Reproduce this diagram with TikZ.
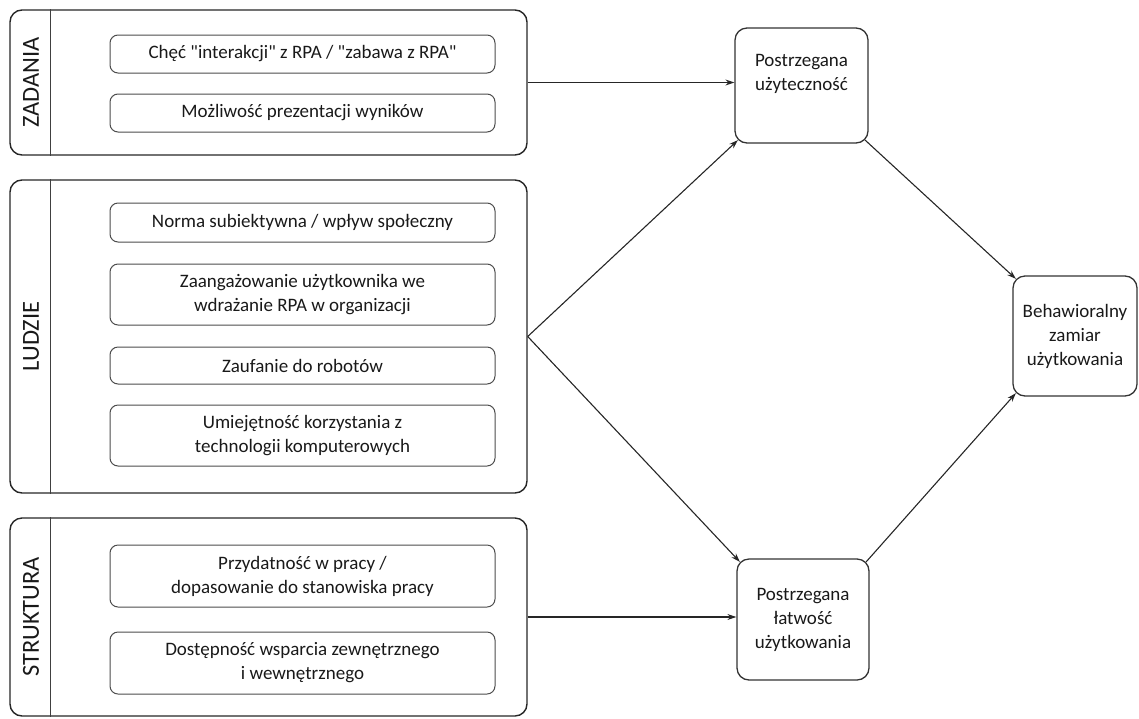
\documentclass[tikz,border=0pt]{standalone}
\usepackage{fontspec}
\setmainfont{Carlito}[Ligatures=TeXOff]
\usetikzlibrary{arrows.meta,calc}
\begin{document}
\begin{tikzpicture}[x=1pt,y=-1pt,
  group/.style={draw=black!85, line width=1.4pt, rounded corners=12pt, inner sep=0pt},
  item/.style={draw=black!70, line width=1pt, rounded corners=8pt, minimum width=385pt, inner sep=0pt, align=center, font=\fontsize{19}{24}\selectfont, text=black!90},
  concept/.style={draw=black!80, line width=1.3pt, rounded corners=12pt, inner sep=0pt, align=center, font=\fontsize{19}{24}\selectfont, text=black!90},
  grouplabel/.style={rotate=90, font=\fontsize{24.5}{27}\selectfont, text=black!90, inner sep=0pt},
  divider/.style={draw=black!75, line width=1pt},
  link/.style={draw=black!85, line width=1.1pt, -{Stealth[length=9pt,width=6pt]}}
]
\useasboundingbox (0,0) rectangle (1139,718);

% groups
\node[group, minimum width=517pt, minimum height=145pt] (zad) at (268.5,82.5) {};
\node[group, minimum width=517pt, minimum height=313pt] (lud) at (268.5,336.5) {};
\node[group, minimum width=517pt, minimum height=198pt] (str) at (268.5,617) {};

\draw[divider] ([xshift=41pt]zad.north west) -- ([xshift=41pt]zad.south west);
\draw[divider] ([xshift=41pt]lud.north west) -- ([xshift=41pt]lud.south west);
\draw[divider] ([xshift=41pt]str.north west) -- ([xshift=41pt]str.south west);

\node[grouplabel] (zadl) at (31,82.5) {ZADANIA};
\node[grouplabel] (ludl) at (31,336.5) {LUDZIE};
\node[grouplabel] (strl) at (31,617) {STRUKTURA};

% items
\node[item, minimum height=38pt] (i1) at (302.5,54) {Chęć "interakcji" z RPA / "zabawa z RPA"};
\node[item, minimum height=38pt] (i2) at (302.5,113) {Możliwość prezentacji wyników};
\node[item, minimum height=39pt] (i3) at (302.5,222.5) {Norma subiektywna / wpływ społeczny};
\node[item, minimum height=61pt] (i4) at (302.5,294.5) {Zaangażowanie użytkownika we\\wdrażanie RPA w organizacji};
\node[item, minimum height=37pt] (i5) at (302.5,365.5) {Zaufanie do robotów};
\node[item, minimum height=61pt] (i6) at (302.5,435.5) {Umiejętność korzystania z\\technologii komputerowych};
\node[item, minimum height=62pt] (i7) at (302.5,576) {Przydatność w pracy /\\dopasowanie do stanowiska pracy};
\node[item, minimum height=62pt] (i8) at (302.5,663) {Dostępność wsparcia zewnętrznego\\i wewnętrznego};

% concepts
\node[concept, minimum width=133pt, minimum height=115pt] (uz) at (801.5,85.5) {Postrzegana\\użyteczność\\[3pt]};
\node[concept, minimum width=124pt, minimum height=120pt] (beh) at (1075,336) {Behawioralny\\zamiar\\użytkowania};
\node[concept, minimum width=132pt, minimum height=121pt] (lat) at (803,619.5) {Postrzegana\\łatwość\\użytkowania};

% connectors
\draw[link] (zad.east) -- (zad.east -| uz.west);
\draw[link] (str.east) -- (str.east -| lat.west);
\draw[link] (lud.east) -- ($(uz.south west)+(3.5,-3.5)$);
\draw[link] (lud.east) -- ($(lat.north west)+(3.5,3.5)$);
\draw[link] ($(uz.south east)+(-3.5,-3.5)$) -- ($(beh.north west)+(3.5,3.5)$);
\draw[link] ($(lat.north east)+(-3.5,3.5)$) -- ($(beh.south west)+(3.5,-3.5)$);
\end{tikzpicture}
\end{document}
